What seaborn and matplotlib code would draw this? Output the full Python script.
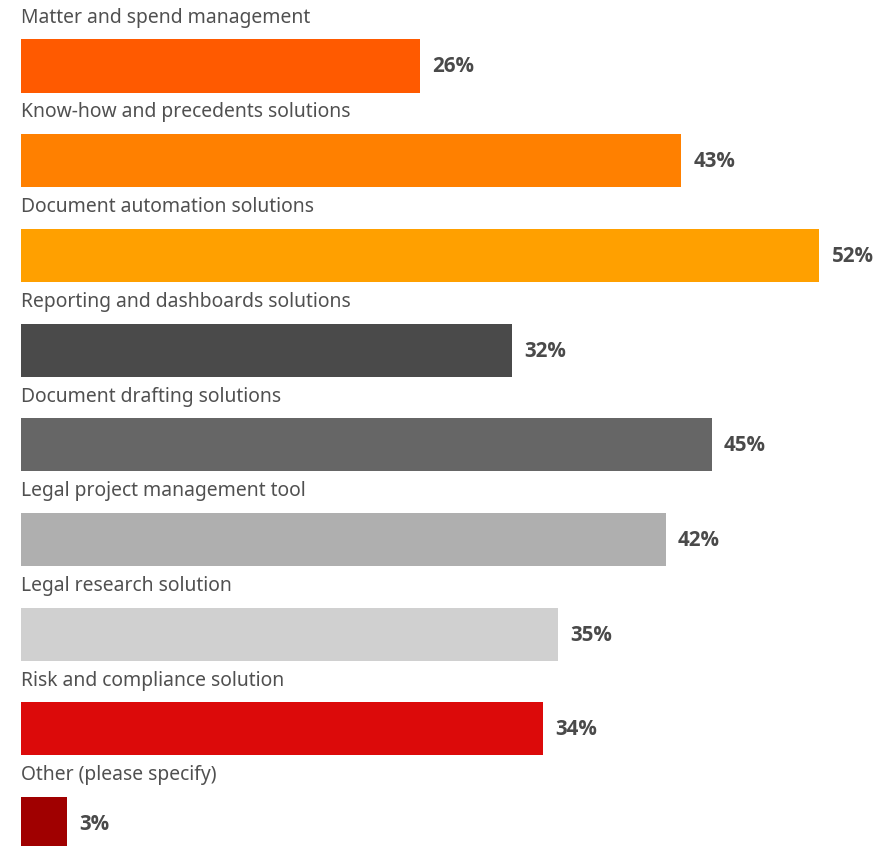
import matplotlib
matplotlib.use("Agg")
import matplotlib.pyplot as plt
import seaborn as sns
import pandas as pd

categories = [
    "Matter and spend management",
    "Know-how and precedents solutions",
    "Document automation solutions",
    "Reporting and dashboards solutions",
    "Document drafting solutions",
    "Legal project management tool",
    "Legal research solution",
    "Risk and compliance solution",
    "Other (please specify)",
]
values = [26, 43, 52, 32, 45, 42, 35, 34, 3]
colors = ["#FF5A00", "#FF8000", "#FFA000", "#4A4A4A", "#666666",
          "#AFAFAF", "#D0D0D0", "#DC0A0A", "#A00000"]

sns.set_theme(style="white")
plt.rcParams["font.family"] = ["Noto Sans", "DejaVu Sans"]

df = pd.DataFrame({"category": categories, "value": values})

fig = plt.figure(figsize=(8.84, 8.46), dpi=100)
ax = fig.add_axes([0, 0, 1, 1])

sns.barplot(data=df, x="value", y="category", hue="category",
            palette=colors, width=0.56, legend=False, saturation=1,
            linewidth=0, ax=ax)

px_per_unit = 15.35
left_px = 21
ax.set_xlim(-left_px / px_per_unit, (884 - left_px) / px_per_unit)
row_px = 94.7
ax.set_ylim((846 - 66) / row_px, -66 / row_px)

for i, (cat, v) in enumerate(zip(categories, values)):
    ax.text(0, i - 0.51, cat, ha="left", va="center",
            fontsize=13.9, color="#505050")
    ax.text(v + 0.8, i + 0.01, f"{v}%", ha="left", va="center",
            fontsize=14.8, fontweight="bold", color="#4A4A4A",
            family=["Open Sans", "DejaVu Sans"])

ax.set_axis_off()
fig.savefig("out.png", dpi=100)
